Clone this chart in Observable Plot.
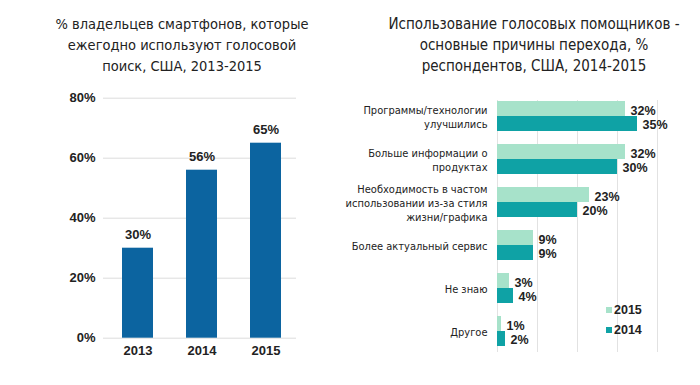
<!DOCTYPE html>
<html>
<head>
<meta charset="utf-8">
<script src="https://cdn.jsdelivr.net/npm/d3@7"></script>
<script src="https://cdn.jsdelivr.net/npm/@observablehq/plot@0.6"></script>
<style>
  html, body { margin: 0; padding: 0; background: #fff; }
  #root { position: relative; width: 700px; height: 385px; overflow: hidden; }
  .title {
    position: absolute; text-align: center; color: #222;
    font-family: "DejaVu Sans Condensed", sans-serif;
    font-size: 14.5px; line-height: 21px;
  }
  .legend {
    position: absolute; left: 606px; top: 300px;
    font-family: "Liberation Sans", Arial, sans-serif; font-weight: bold; font-size: 12.5px; color: #222;
  }
  .legend div { height: 20px; display: flex; align-items: center; }
  .legend span.sw { display: inline-block; width: 6px; height: 6px; margin-right: 2px; }
  .panel { position: absolute; }
  .panel svg { display: block; max-width: none !important; }
</style>
</head>
<body>
<div id="root">
  <div class="title" id="t1" style="left:32px; top:14px; width:300px;"></div>
  <div class="title" id="t2" style="left:369px; top:14px; width:330px; font-size:15px;"></div>
  <div class="panel" id="left" style="left:0; top:80px; width:320px; height:290px;"></div>
  <div class="panel" id="right" style="left:350px; top:90px; width:350px; height:270px;"></div>
  <div class="legend" id="legend"></div>
</div>
<script>
// ---------- data ----------
const leftTitle = ["% владельцев смартфонов, которые", "ежегодно используют голосовой", "поиск, США, 2013-2015"];
const rightTitle = ["Использование голосовых помощников -", "основные причины перехода, %", "респондентов, США, 2014-2015"];

const years = ["2013", "2014", "2015"];
const voiceSearchShare = [30, 56, 65];
const leftTicks = [0, 20, 40, 60, 80];

const reasons = [
  "Программы/технологии\nулучшились",
  "Больше информации о\nпродуктах",
  "Необходимость в частом\nиспользовании из-за стиля\nжизни/графика",
  "Более актуальный сервис",
  "Не знаю",
  "Другое"
];
const series = ["2015", "2014"];
const values2015 = [32, 32, 23, 9, 3, 1];
const values2014 = [35, 30, 20, 9, 4, 2];
const rightTicks = [0, 10, 20, 30, 40];

const blue = "#0c64a0";
const colors = {"2015": "#a7e2ca", "2014": "#0fa2a5"};

// ---------- titles ----------
document.getElementById("t1").innerHTML = leftTitle.join("<br>");
document.getElementById("t2").innerHTML = rightTitle.join("<br>");

// ---------- left chart ----------
const leftData = years.map((y, i) => ({year: y, value: voiceSearchShare[i]}));
const bold = {fontFamily: "Liberation Sans, Arial, sans-serif", fontWeight: "bold", fontSize: 12.5, fill: "#222"};

const left = Plot.plot({
  width: 320, height: 290,
  marginLeft: 103, marginRight: 24, marginTop: 17.7, marginBottom: 32.3,
  style: {fontFamily: "Liberation Sans, Arial, sans-serif", background: "transparent", overflow: "visible"},
  x: {type: "band", domain: years, range: [105.5, 297.5], paddingInner: 0.52, paddingOuter: 0.26},
  y: {domain: [0, 80]},
  marks: [
    Plot.ruleY(leftTicks, {stroke: "#dcdcdc", strokeWidth: 1}),
    Plot.barY(leftData, {x: "year", y: "value", fill: blue}),
    Plot.text(leftData, {x: "year", y: "value", text: d => d.value + "%", dy: -13, ...bold, fontSize: 13}),
    Plot.axisY({ticks: leftTicks, tickFormat: d => d + "%", tickSize: 0, tickPadding: 8, label: null, ...bold, fontSize: 13}),
    Plot.axisX({tickSize: 0, tickPadding: 8, label: null, ...bold, fontSize: 13})
  ]
});
document.getElementById("left").appendChild(left);

// ---------- right chart ----------
const rightData = [];
reasons.forEach((r, i) => {
  rightData.push({reason: r, year: "2015", value: values2015[i]});
  rightData.push({reason: r, year: "2014", value: values2014[i]});
});
const half = 15;

const right = Plot.plot({
  width: 350, height: 270,
  marginLeft: 147, marginRight: 43, marginTop: 10, marginBottom: 13,
  style: {background: "transparent", overflow: "visible"},
  x: {domain: [0, 40]},
  y: {type: "band", domain: reasons, paddingInner: 0.31, paddingOuter: 0},
  marks: [
    Plot.ruleX(rightTicks, {stroke: "#e2e2e2", strokeWidth: 1, insetBottom: -5}),
    Plot.barX(rightData.filter(d => d.year === "2015"), {x: "value", y: "reason", fill: colors["2015"], insetBottom: half}),
    Plot.barX(rightData.filter(d => d.year === "2014"), {x: "value", y: "reason", fill: colors["2014"], insetTop: half}),
    Plot.text(rightData.filter(d => d.year === "2015"), {x: "value", y: "reason", text: d => d.value + "%", textAnchor: "start", dx: 5, dy: -6, ...bold}),
    Plot.text(rightData.filter(d => d.year === "2014"), {x: "value", y: "reason", text: d => d.value + "%", textAnchor: "start", dx: 5, dy: 8, ...bold}),
    Plot.axisY({tickSize: 0, tickPadding: 10, label: null, lineHeight: 1.25,
      fontFamily: "DejaVu Sans Condensed, sans-serif", fontSize: 11, fill: "#222"}),
    Plot.axisX({ticks: [], label: null, tickSize: 0})
  ]
});
document.getElementById("right").appendChild(right);

// ---------- legend ----------
const legend = document.getElementById("legend");
series.forEach(s => {
  const row = document.createElement("div");
  row.innerHTML = `<span class="sw" style="background:${colors[s]}"></span>${s}`;
  legend.appendChild(row);
});
</script>
</body>
</html>
